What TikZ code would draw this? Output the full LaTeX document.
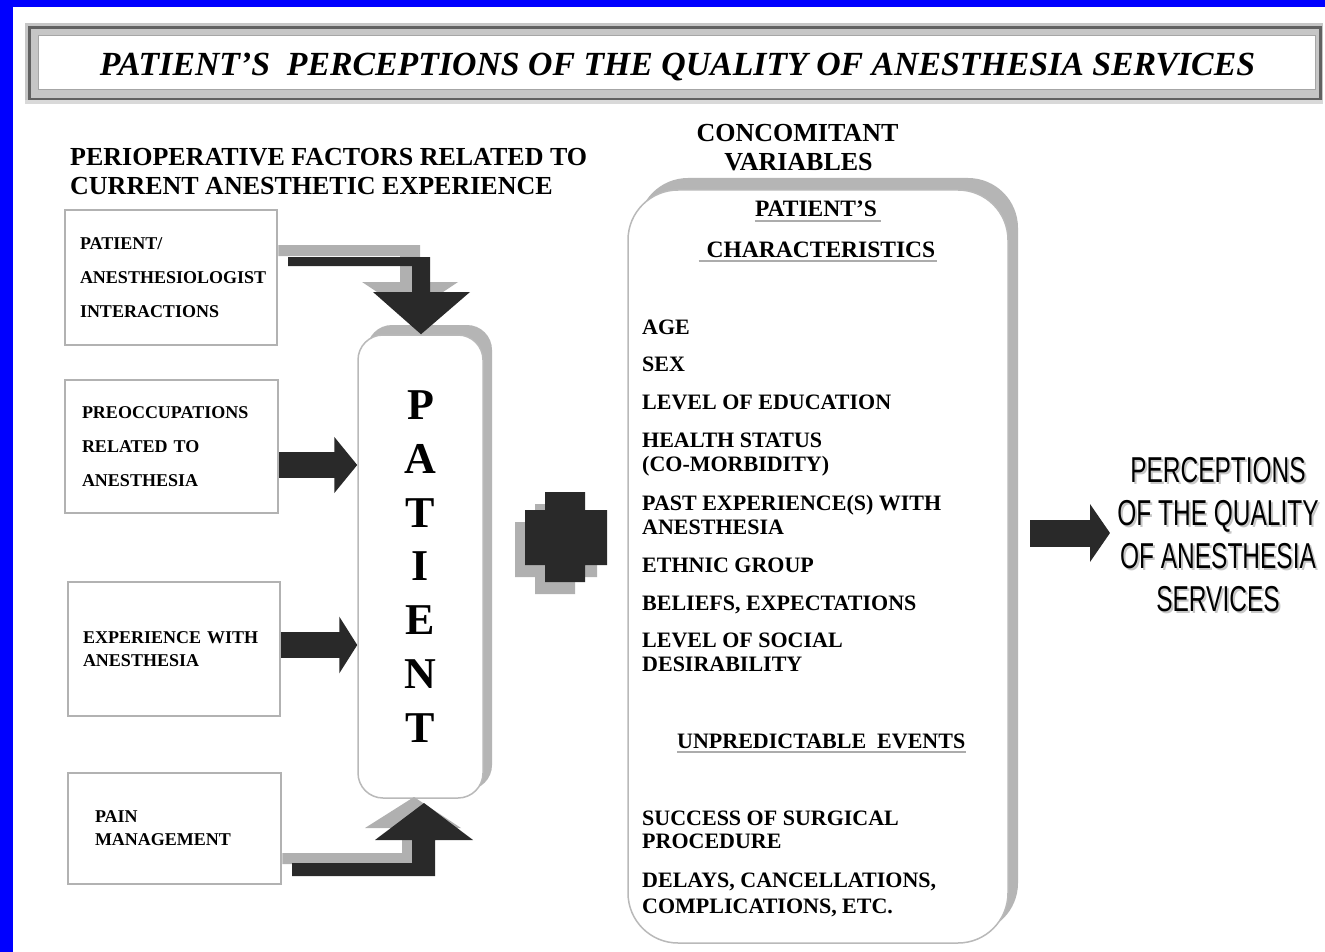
\documentclass[tikz,border=0pt]{standalone}
\usepackage{fontspec}
\setmainfont{Liberation Serif}
\setsansfont{Liberation Sans}
\usetikzlibrary{arrows.meta,calc}
\begin{document}
\begin{tikzpicture}[x=1pt,y=-1pt,
  factor/.style={draw=gray!60, line width=2.5pt, fill=white, rectangle, inner sep=0pt, align=left},
  ftext/.style={font=\fontsize{18}{#1}\selectfont\bfseries},
  item/.style={anchor=base west, inner sep=0pt, font=\fontsize{22}{24}\selectfont\bfseries},
  subhead/.style={anchor=base, inner sep=0pt, font=\fontsize{23.5}{26}\selectfont\bfseries},
  heading/.style={inner sep=0pt, font=\fontsize{26}{29}\selectfont\bfseries},
  ul/.style={draw=gray!65, line width=2.5pt},
  darkfill/.style={fill=black!84},
  shadowfill/.style={fill=gray!62},
  outtext/.style={anchor=base, inner sep=0pt, font=\fontsize{36}{36}\selectfont\sffamily},
]
\useasboundingbox (0,0) rectangle (1325,952);
\clip (0,0) rectangle (1325,952);
\fill[white] (0,0) rectangle (1325,952);
% blue frame
\fill[blue] (0,0) rectangle (1325,7);
\fill[blue] (0,0) rectangle (13,952);

% title bar
\fill[gray!45] (25,23) rectangle (1323,104);
\draw[black!62, line width=3pt] (29,28) rectangle (1320,100);
\fill[gray!30] (25,100) rectangle (1323,104);
\draw[gray!70, line width=1pt, fill=white] (38,36) rectangle (1315,90);
\node[anchor=base, inner sep=0pt] (title) at (677.5,76)
  {\resizebox{1155pt}{!}{\bfseries\itshape PATIENT'S\ \ PERCEPTIONS OF THE QUALITY OF ANESTHESIA SERVICES}};

% headings
\node[heading, anchor=base west] (peri1) at (70,166) {PERIOPERATIVE FACTORS RELATED TO};
\node[heading, anchor=base west] (peri2) at (70,195) {CURRENT ANESTHETIC EXPERIENCE};
\node[heading, anchor=base] (conc1) at (797.5,142) {CONCOMITANT};
\node[heading, anchor=base] (conc2) at (798.5,171) {VARIABLES};

% factor boxes
\node[factor, ftext=34, minimum width=212pt, minimum height=135pt, text width=182pt] (b1) at (171,277.5)
  {PATIENT/\\ANESTHESIOLOGIST\\INTERACTIONS};
\node[factor, ftext=34, minimum width=213pt, minimum height=133pt, text width=179pt] (b2) at (171.5,446.5)
  {PREOCCUPATIONS\\RELATED TO\\ANESTHESIA};
\node[factor, ftext=23, minimum width=212pt, minimum height=134pt, text width=182pt] (b3) at (174,649)
  {EXPERIENCE WITH\\ANESTHESIA};
\node[factor, ftext=23, minimum width=213pt, minimum height=111pt, text width=159pt] (b4) at (174.5,828.5)
  {PAIN\\MANAGEMENT};

% patient box
\fill[gray!58, rounded corners=25pt] (367,325) rectangle (492,790);
\node[draw=gray!55, line width=1.5pt, fill=white, rounded corners=25pt, minimum width=125pt, minimum height=463pt,
      inner sep=0pt, align=center, font=\fontsize{44}{53.8}\selectfont\bfseries] (pat) at (420.5,566.5)
  {P\\A\\T\\I\\E\\N\\T};

% top bent arrow (shadow + dark)
\fill[shadowfill] (b1.east |- 0,245) -- (420,245) -- (420,282) -- (458,282) -- (410,314) -- (362,282) -- (400,282) -- (400,256) -- (b1.east |- 0,256) -- cycle;
\fill[darkfill] (288,257) -- (430,257) -- (430,292) -- (470,292) -- (pat.north -| 421,0) -- (373,292) -- (412,292) -- (412,266) -- (288,266) -- cycle;

% bottom bent arrow (shadow + dark)
\fill[shadowfill] (b4.east |- 0,853) -- (402,853) -- (402,828) -- (365,828) -- (414,797) -- (461,828) -- (425,828) -- (425,864) -- (b4.east |- 0,864) -- cycle;
\fill[darkfill] (292,863) -- (412,863) -- (412,840) -- (375,840) -- (424,803) -- (473,840) -- (435,840) -- (435,876) -- (292,876) -- cycle;

% straight arrows
\draw[draw=black!84, line width=26pt, -{Triangle[length=23pt,width=55pt]}, black!84]
  ([yshift=-18.5pt]b2.east) -- ([yshift=-18.5pt]b2.east -| pat.west);
\draw[draw=black!84, line width=26pt, -{Triangle[length=18pt,width=56pt]}, black!84]
  ([yshift=4pt]b3.east) -- ([yshift=4pt]b3.east -| pat.west);

% plus sign
\fill[shadowfill] (535,504) -- (575,504) -- (575,522) -- (597,522) -- (597,577) -- (575,577) -- (575,594) -- (535,594) -- (535,577) -- (515,577) -- (515,522) -- (535,522) -- cycle;
\fill[darkfill] (545,492) -- (585,492) -- (585,510) -- (607,510) -- (607,565) -- (585,565) -- (585,582) -- (545,582) -- (545,565) -- (525,565) -- (525,510) -- (545,510) -- cycle;

% concomitant variables box
\fill[gray!58, rounded corners=50pt] (638,178) rectangle (1018,933);
\node[draw=gray!55, line width=1.5pt, fill=white, rounded corners=50pt, minimum width=380pt, minimum height=753pt, inner sep=0pt]
  (cv) at (818,566.5) {};

\node[subhead] (h1) at (816,217) {PATIENT'S};
\draw[ul] ([yshift=-4pt]h1.base west) -- ([yshift=-4pt,xshift=4pt]h1.base east);
\node[subhead] (h2) at (821,257) {CHARACTERISTICS};
\draw[ul] ([yshift=-4pt,xshift=-8pt]h2.base west) -- ([yshift=-4pt,xshift=2pt]h2.base east);

\node[item] (c1) at (642,334) {AGE};
\node[item] (c2) at (642,371) {SEX};
\node[item] (c3) at (642,409) {LEVEL OF EDUCATION};
\node[item] (c4) at (642,447) {HEALTH STATUS};
\node[item] (c4b) at (642,471) {(CO-MORBIDITY)};
\node[item] (c5) at (642,510) {PAST EXPERIENCE(S) WITH};
\node[item] (c5b) at (642,534) {ANESTHESIA};
\node[item] (c6) at (642,572) {ETHNIC GROUP};
\node[item] (c7) at (642,610) {BELIEFS, EXPECTATIONS};
\node[item] (c8) at (642,647) {LEVEL OF SOCIAL};
\node[item] (c8b) at (642,671) {DESIRABILITY};
\node[item] (u1) at (677,748) {UNPREDICTABLE\ \ EVENTS};
\draw[ul] ([yshift=-4pt]u1.base west) -- ([yshift=-4pt]u1.base east);
\node[item] (e1) at (642,825) {SUCCESS OF SURGICAL};
\node[item] (e1b) at (642,848) {PROCEDURE};
\node[item] (e2) at (642,887) {DELAYS, CANCELLATIONS,};
\node[item] (e2b) at (642,913) {COMPLICATIONS, ETC.};

% output
\coordinate (fa) at (1030,533);
\coordinate (fb) at (1110,533);
\draw[draw=black!84, line width=27pt, -{Triangle[length=20pt,width=57pt]}, black!84] (fa) -- (fb);

\node[outtext, text=gray!45] (o1s) at (1220,484) {\scalebox{0.68}[1]{PERCEPTIONS}};
\node[outtext, text=gray!45] (o2s) at (1220,527) {\scalebox{0.68}[1]{OF THE QUALITY}};
\node[outtext, text=gray!45] (o3s) at (1220,570) {\scalebox{0.68}[1]{OF ANESTHESIA}};
\node[outtext, text=gray!45] (o4s) at (1220,613) {\scalebox{0.68}[1]{SERVICES}};
\node[outtext] (o1) at (1218,482) {\scalebox{0.68}[1]{PERCEPTIONS}};
\node[outtext] (o2) at (1218,525) {\scalebox{0.68}[1]{OF THE QUALITY}};
\node[outtext] (o3) at (1218,568) {\scalebox{0.68}[1]{OF ANESTHESIA}};
\node[outtext] (o4) at (1218,611) {\scalebox{0.68}[1]{SERVICES}};
\end{tikzpicture}
\end{document}
